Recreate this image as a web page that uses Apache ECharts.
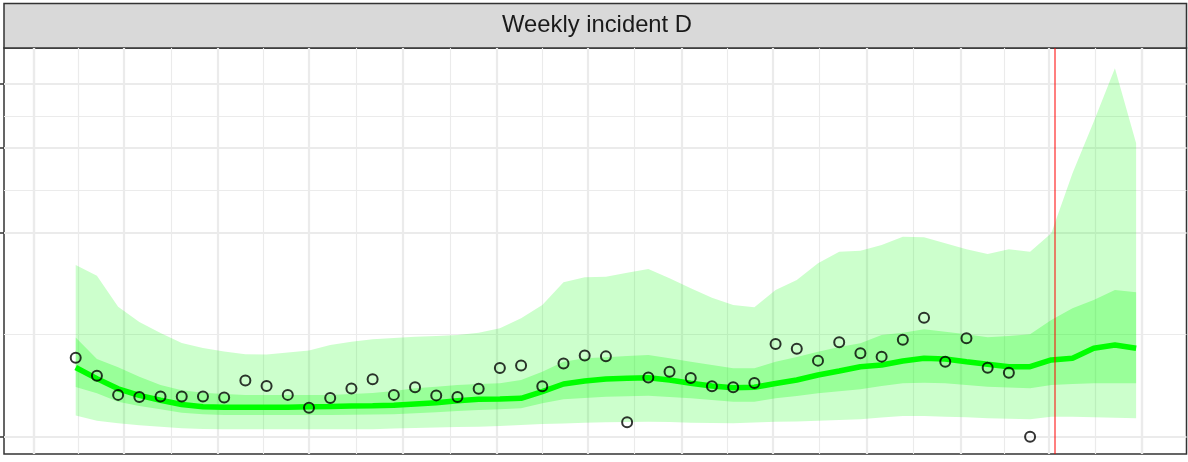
<!DOCTYPE html>
<html>
<head>
<meta charset="utf-8">
<title>Weekly incident D</title>
<script src="https://cdn.jsdelivr.net/npm/echarts@6.0.0/dist/echarts.min.js"></script>
<style>
html, body { margin: 0; padding: 0; background: #fff; }
#main { width: 1188px; height: 462px; }
</style>
</head>
<body>
<div id="main"></div>
<script>
var panelTitle = 'Weekly incident D';

// weekly dates (epiweek ending Saturday), first week of the season
var firstWeek = '2023-04-15';
var forecastDay = '2024-03-03';
var xLimits = ['2023-03-22 08:00', '2024-04-15 15:00'];

// observed weekly counts
var obsValues = [150, 89, 42, 38, 39, 39, 39, 37, 76, 62,
                 42, 20, 36, 56, 79, 42, 59, 41, 38, 55,
                 113, 122, 61, 129, 158, 155, 5, 84, 101, 83,
                 61, 59, 69, 206, 186, 139, 214, 167, 154, 226,
                 340, 135, 233, 114, 98, 0];

// model fit + forecast (median and intervals)
var median = [115, 81, 55, 41, 32, 25, 21.6, 20.9, 20.8, 20.8,
              20.9, 21.5, 21.9, 22.6, 23.1, 23.7, 25.7, 27.8, 31.1, 33.6,
              34.2, 35.4, 48.7, 66.7, 74.6, 80, 82, 83.6, 77.3, 68.5,
              61.8, 57.7, 58.6, 68, 77.3, 91.5, 103.7, 117.7, 123.5, 137.7,
              147.7, 145.1, 135.2, 126, 117.7, 117.7, 141.4, 147.7, 187.8, 202.1,
              187.8];
var upper95 = [708, 623, 406, 316, 258, 211, 189, 174, 163, 162,
               170, 178, 202, 217, 228, 234, 240, 244, 249, 260,
               282, 337, 417, 573, 611, 615, 646, 676, 603, 529,
               464, 417, 402, 517, 590, 723, 822, 831, 883, 961,
               955, 899, 844, 802, 844, 822, 994, 1667, 2384, 3261,
               2069];
var upper50 = [236, 145, 116, 86, 64, 52, 46.5, 43.8, 41.8, 41.8,
               41.8, 41.8, 41.8, 43.8, 45.9, 50.2, 56.3, 60.1, 64.2, 66.7,
               68.5, 77.3, 101.5, 135.2, 147.7, 151.5, 156.5, 160.4, 147.7, 135.2,
               123.5, 112.4, 112.4, 135.2, 152.6, 173.6, 193.3, 209.6, 248.5, 259.9,
               277.2, 264.9, 252, 237.4, 243.7, 252, 327.3, 396.2, 449, 517.1,
               501.1];
var lower50 = [59.4, 45.3, 29.4, 22.6, 18, 13.8, 12.1, 11.3, 11.3, 11.3,
               11.3, 11.3, 11.3, 11.6, 11.8, 12.1, 13.2, 14.3, 15.9, 17.1,
               18, 19.4, 26.8, 33.6, 36, 38.4, 39.4, 40.4, 37.9, 35.4,
               32.4, 29.4, 29.4, 35.4, 39.8, 45.3, 49.5, 54, 61.8, 68.5,
               70.1, 68.5, 64.2, 60.1, 58.2, 56.3, 64.2, 66.7, 68.5, 68.5,
               68.5];
var lower95 = [10.8, 6.2, 4.3, 3.1, 2.4, 1.7, 1.4, 1.3, 1.3, 1.3,
               1.3, 1.3, 1.3, 1.3, 1.3, 1.6, 1.8, 2.0, 2.3, 2.4,
               2.8, 3.3, 3.9, 4.2, 4.7, 5.0, 5.2, 5.4, 5.1, 4.7,
               4.5, 4.3, 4.8, 5.4, 5.6, 6.2, 6.7, 7.3, 8.9, 10.3,
               10.3, 9.6, 9.0, 8.1, 7.7, 7.3, 9.6, 9.6, 9.0, 8.6,
               8.1];

// axis breaks (y is on a square-root scale)
var yBreaks = [0, 1000, 2000, 3000];
var yLimits = [-7.2, 3630];
var xBreaks = ['2023-04-01', '2023-05-01', '2023-06-01', '2023-07-01', '2023-08-01',
               '2023-09-01', '2023-10-01', '2023-11-01', '2023-12-01', '2024-01-01',
               '2024-02-01', '2024-03-01', '2024-04-01'];

function stamp(s) {
    var p = s.split(/[- :]/);
    return new Date(+p[0], p[1] - 1, +p[2], +(p[3] || 0), +(p[4] || 0)).getTime();
}
function weekStamp(k) {
    var p = firstWeek.split('-');
    return new Date(+p[0], p[1] - 1, +p[2] + 7 * k).getTime();
}
// sqrt transform, keeping sign for the expanded lower limit
function tr(v) { return v < 0 ? -Math.sqrt(-v) : Math.sqrt(v); }
function mids(a) {
    var out = [];
    for (var i = 0; i < a.length - 1; i++) out.push((a[i] + a[i + 1]) / 2);
    return out;
}

var xMajor = xBreaks.map(stamp);
var xMinor = mids(xMajor);
var yMajor = yBreaks.map(tr);
var yMinor = mids(yMajor);

var obsData = obsValues.map(function (v, k) { return [weekStamp(k), tr(v)]; });
var medData = median.map(function (v, k) { return [weekStamp(k), tr(v)]; });

function band(lower, upper, color, z) {
    return {
        type: 'custom',
        silent: true,
        z: z,
        clip: true,
        data: [[weekStamp(0), tr(median[0])]],
        renderItem: function (params, api) {
            var pts = [];
            for (var k = 0; k < upper.length; k++) pts.push(api.coord([weekStamp(k), tr(upper[k])]));
            for (var j = lower.length - 1; j >= 0; j--) pts.push(api.coord([weekStamp(j), tr(lower[j])]));
            return { type: 'polygon', shape: { points: pts }, style: { fill: color } };
        }
    };
}

var gridLine = '#EBEBEB';
var chart = echarts.init(document.getElementById('main'));
var option = {
    animation: false,
    backgroundColor: '#ffffff',
    grid: {
        left: 4, right: 1.5, top: 48, bottom: 8,
        containLabel: false,
        outerBoundsMode: 'none',
        show: true,
        backgroundColor: '#ffffff',
        borderColor: '#333333',
        borderWidth: 1.5
    },
    xAxis: [
        {
            type: 'time',
            min: stamp(xLimits[0]), max: stamp(xLimits[1]),
            axisLine: { show: false },
            axisLabel: { show: false },
            axisTick: { show: false, customValues: xMajor },
            splitLine: { show: true, lineStyle: { color: gridLine, width: 2.2 } }
        },
        {
            type: 'time',
            min: stamp(xLimits[0]), max: stamp(xLimits[1]),
            axisLine: { show: false },
            axisLabel: { show: false },
            axisTick: { show: false, customValues: xMinor },
            splitLine: { show: true, lineStyle: { color: gridLine, width: 1.1 } }
        }
    ],
    yAxis: [
        {
            type: 'value',
            min: tr(yLimits[0]), max: tr(yLimits[1]),
            axisLine: { show: false },
            axisLabel: { show: false },
            axisTick: { show: true, inside: false, length: 4, customValues: yMajor,
                        lineStyle: { color: '#333333', width: 1.5 } },
            splitLine: { show: true, lineStyle: { color: gridLine, width: 2.2 } }
        },
        {
            type: 'value',
            min: tr(yLimits[0]), max: tr(yLimits[1]),
            axisLine: { show: false },
            axisLabel: { show: false },
            axisTick: { show: false, customValues: yMinor },
            splitLine: { show: true, lineStyle: { color: gridLine, width: 1.1 } }
        }
    ],
    graphic: [
        {
            type: 'rect',
            shape: { x: 4, y: 3.5, width: 1182.5, height: 44.5 },
            style: { fill: '#D9D9D9', stroke: '#333333', lineWidth: 1.5 }
        },
        {
            type: 'text',
            x: 597, y: 25.5,
            style: {
                text: panelTitle,
                font: '23.8px "Liberation Sans", Arial, sans-serif',
                fill: '#1A1A1A',
                align: 'center',
                verticalAlign: 'middle'
            }
        }
    ],
    series: [
        band(lower95, upper95, 'rgba(0,255,0,0.2)', 1),
        band(lower50, upper50, 'rgba(0,255,0,0.25)', 2),
        {
            type: 'line',
            data: medData,
            z: 3,
            silent: true,
            showSymbol: false,
            lineStyle: { color: '#00FF00', width: 5.5 }
        },
        {
            type: 'scatter',
            data: obsData,
            z: 4,
            silent: true,
            symbol: 'circle',
            symbolSize: 10,
            itemStyle: { color: 'rgba(0,0,0,0)', borderColor: '#000000', borderWidth: 2 },
            markLine: {
                silent: true,
                symbol: ['none', 'none'],
                label: { show: false },
                lineStyle: { color: 'rgba(255,0,0,0.5)', width: 2, type: 'solid' },
                data: [{ xAxis: stamp(forecastDay) }]
            }
        }
    ]
};
chart.setOption(option);
</script>
</body>
</html>
